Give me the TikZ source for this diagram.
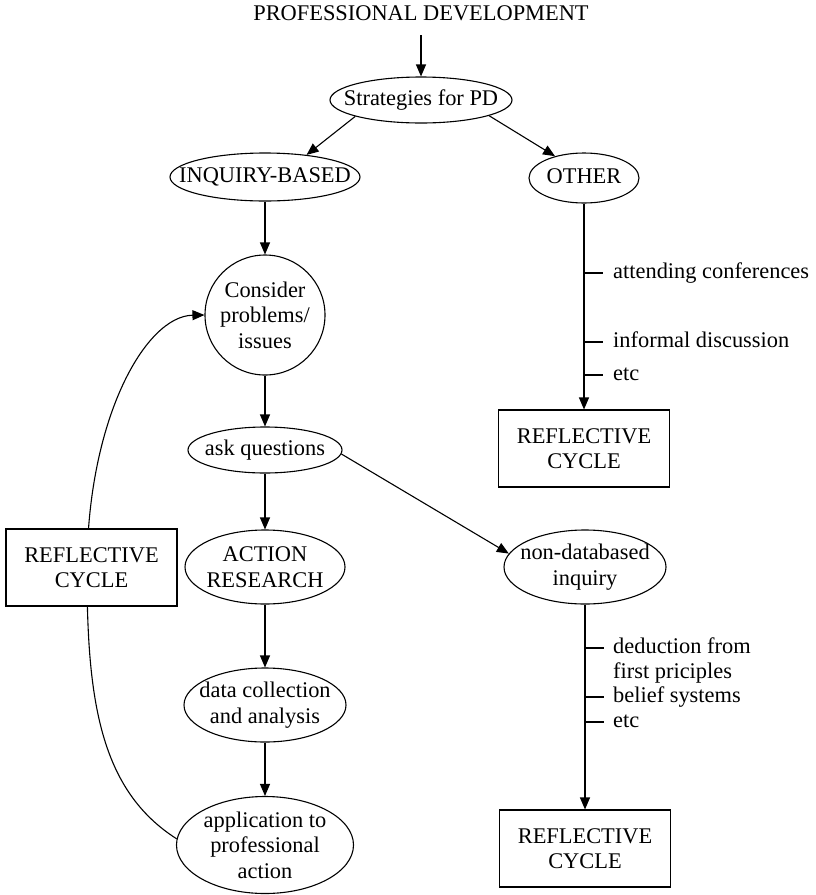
\documentclass[tikz,border=0pt]{standalone}
\usepackage{fontspec}
\setmainfont{Liberation Serif}
\usetikzlibrary{shapes.geometric,arrows.meta}
\pgfdeclarelayer{bg}
\pgfsetlayers{bg,main}
\begin{document}
\begin{tikzpicture}[x=1pt,y=-1pt,
  every node/.style={font=\fontsize{22.4}{25.5}\selectfont, inner sep=0pt},
  conn/.style={line width=1.1pt},
  arr/.style={line width=1.1pt, -{Triangle[length=12pt,width=10pt]}},
  oval/.style={ellipse, draw, line width=1.1pt, inner sep=0pt},
  rbox/.style={rectangle, draw, line width=1.1pt, fill=white, minimum width=171pt, minimum height=77pt, align=center},
  txt/.style={align=center},
  one/.style={text height=15pt, text depth=5pt},
  lab/.style={anchor=west, text height=15pt, text depth=5pt}]
\useasboundingbox (0,0) rectangle (816,895);

% title
\node[one] (title) at (421,15) {PROFESSIONAL DEVELOPMENT};
\coordinate (tin) at (421,35);

% ovals
\node[oval, minimum width=182pt, minimum height=46pt] (s) at (421,100) {};
\node[one] (st) at (s) {Strategies for PD};
\node[oval, minimum width=190pt, minimum height=48pt] (i) at (265,177) {};
\node[one] (it) at (i) {INQUIRY-BASED};
\node[oval, minimum width=110pt, minimum height=50pt] (o) at (584,178) {};
\node[one] (ot) at (o) {OTHER};
\node[circle, draw, line width=1.1pt, minimum size=120pt] (c) at (265,315) {};
\node[txt] (ct) at (c) {Consider\\problems/\\issues};
\node[oval, minimum width=154pt, minimum height=46pt] (a) at (265,450) {};
\node[one] (at) at (a) {ask questions};
\node[oval, minimum width=160pt, minimum height=74pt] (ar) at (265,567) {};
\node[txt] (art) at (ar) {ACTION\\RESEARCH};
\node[oval, minimum width=162pt, minimum height=74pt] (d) at (265,705) {};
\node[txt] (dt) at (d) {data collection\\and analysis};
\node[oval, minimum width=177pt, minimum height=97pt] (ap) at (265,845) {};
\node[txt] (apt) at (ap) {application to\\professional\\action};
\node[oval, minimum width=162pt, minimum height=74pt] (nd) at (585,567) {};
\node[txt] (ndt) at (nd) {non-databased\\inquiry};

% boxes
\node[rbox] (lb) at (91.5,567.5) {REFLECTIVE\\CYCLE};
\node[rbox] (rb1) at (584,448.5) {REFLECTIVE\\CYCLE};
\node[rbox] (rb2) at (585,848.5) {REFLECTIVE\\CYCLE};

% connectors
\draw[arr] (tin) -- (s.north);
\draw[arr] (s.194) -- (i.28);
\draw[arr] (s.347) -- (o.143);
\draw[arr] (i.south) -- (c.north);
\draw[arr] (o.south) -- (rb1.north);
\draw[arr] (c.south) -- (a.north);
\draw[arr] (a.south) -- (ar.north);
\draw[arr] (a.357) -- (nd.170);
\draw[arr] (ar.south) -- (d.north);
\draw[arr] (d.south) -- (ap.north);
\draw[arr] (nd.south) -- (rb2.north);

\begin{pgfonlayer}{bg}
\draw[arr] (ap.176) .. controls (100,790) and (87,700) .. (87,570)
  .. controls (87,420) and (145,316) .. (c.west);
\end{pgfonlayer}

% labels on OTHER branch
\node[lab] (l1) at (613,273) {attending conferences};
\node[lab] (l2) at (613,342) {informal discussion};
\node[lab] (l3) at (613,375) {etc};
\draw[conn] (l1.west -| o.south) -- ++(19,0);
\draw[conn] (l2.west -| o.south) -- ++(19,0);
\draw[conn] (l3.west -| o.south) -- ++(19,0);

% labels on non-databased branch
\node[lab] (m1) at (613,648) {deduction from};
\node[lab] (m1b) at (613,673) {first priciples};
\node[lab] (m2) at (613,697) {belief systems};
\node[lab] (m3) at (613,722) {etc};
\draw[conn] (m1.west -| nd.south) -- ++(19,0);
\draw[conn] (m2.west -| nd.south) -- ++(19,0);
\draw[conn] (m3.west -| nd.south) -- ++(19,0);
\end{tikzpicture}
\end{document}
